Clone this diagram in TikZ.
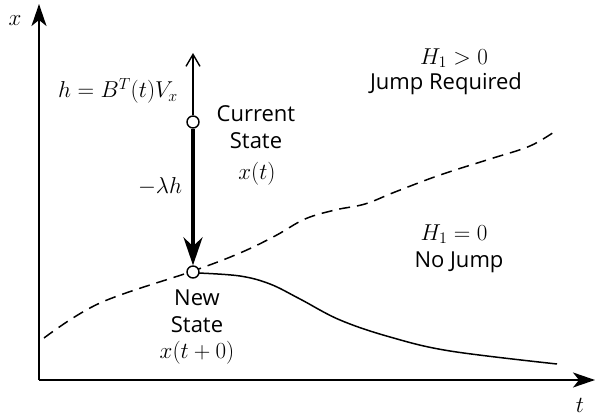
\RequirePackage{fix-cm}
\documentclass[tikz,border=0pt]{standalone}
\usepackage{fontspec}
\setmainfont{Open Sans}
\usetikzlibrary{arrows.meta}
\begin{document}
\begin{tikzpicture}[x=1pt,y=-1pt,
  lbl/.style={font=\fontsize{22}{27}\selectfont, align=center, inner sep=0pt},
  mth/.style={font=\fontsize{23}{27}\selectfont, inner sep=0pt},
  axis/.style={line width=2pt, -{Stealth[length=22pt,width=15pt,inset=6pt]}},
  statept/.style={circle, draw, fill=white, line width=1.4pt, minimum size=12pt, inner sep=0pt},
  curve/.style={line width=1.5pt},
  dcurve/.style={line width=1.5pt, dash pattern=on 11pt off 7pt}]
\useasboundingbox (0,0) rectangle (595,417);
% axes
\coordinate (O) at (39,380);
\coordinate (xtip) at (39,4);
\coordinate (ttip) at (595,380);
\draw[axis] (O) -- (xtip);
\draw[axis] (O) -- (ttip);
\node[mth] (xl) at (15,21) {$x$};
\node[mth] (tl) at (580,405) {$t$};
% dashed switching curve
\draw[dcurve] plot[smooth, tension=0.6] coordinates {(44,338) (100,303) (193,271) (240,253) (275,236) (305,219) (335,210) (365,204) (395,192) (440,175) (490,159) (530,146) (557,130)};
% solid trajectory
\draw[curve] plot[smooth, tension=0.6] coordinates {(198,273) (240,276) (270,284) (300,299) (340,320) (390,337) (450,351) (557,364)};
% states
\node[statept] (new) at (193,272) {};
\node[statept] (cur) at (193,122) {};
\coordinate (htip) at (193,53);
\draw[line width=1.4pt, -{Straight Barb[length=12pt,width=14pt]}] (cur) -- (htip);
\draw[line width=3.5pt, -{Stealth[length=28pt,width=19pt,inset=9pt]}] (cur) -- (new);
% labels
\node[mth] (hl) at (118,91) {$h = B^T(t)V_x$};
\node[lbl] (curl) at (256,127) {Current\\State};
\node[mth] (xt) at (257,174) {$x(t)$};
\node[mth] (lam) at (160,186) {$-\lambda h$};
\node[lbl] (newl) at (197,311) {New\\State};
\node[mth] (xt0) at (197,353) {$x(t+0)$};
\node[mth] (h1p) at (454,58) {$H_1>0$};
\node[lbl] (jr) at (446,84) {Jump Required};
\node[mth] (h1z) at (454,234) {$H_1=0$};
\node[lbl] (nj) at (459,262) {No Jump};
\end{tikzpicture}
\end{document}
